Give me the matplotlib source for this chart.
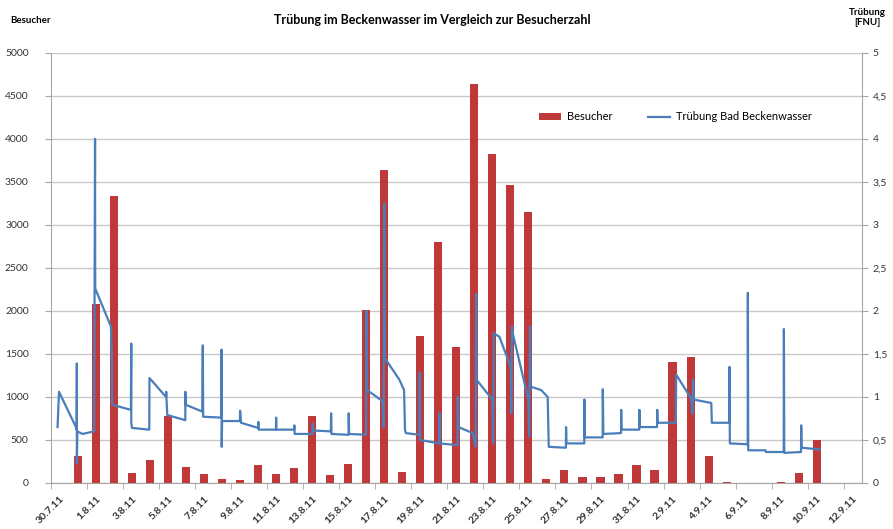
import numpy as np
import matplotlib
matplotlib.use("Agg")
import matplotlib.pyplot as plt
from matplotlib.ticker import FuncFormatter

plt.rcParams['font.family'] = ['Lato', 'DejaVu Sans']

# one slot per day, 30.7.11 .. 12.9.11
tick_labels = ["30.7.11", "1.8.11", "3.8.11", "5.8.11", "7.8.11", "9.8.11", "11.8.11",
               "13.8.11", "15.8.11", "17.8.11", "19.8.11", "21.8.11", "23.8.11", "25.8.11",
               "27.8.11", "29.8.11", "31.8.11", "2.9.11", "4.9.11", "6.9.11", "8.9.11",
               "10.9.11", "12.9.11"]

besucher = [0, 310, 2080, 3340, 120, 265, 780, 180, 105, 45, 40, 210, 105, 175, 780,
            92, 215, 2015, 3640, 122, 1705, 2805, 1578, 4640, 3822, 3468, 3151, 48, 151,
            74, 74, 108, 209, 151, 1408, 1466, 314, 15, 5, 5, 12, 120, 500, 0, 0]

# turbidity readings: time in days since 30.7.11, value in FNU
trub_t = [-0.13, -0.05, 0.89, 0.93, 0.94, 0.94, 0.97, 1.25, 1.90, 1.95, 1.96, 2.83, 2.88, 2.90,
          3.94, 3.96, 3.96, 4.00, 4.96, 4.97, 5.89, 5.90, 5.92, 5.96, 6.96, 6.96, 6.98,
          7.90, 7.93, 7.95, 8.96, 8.97, 8.98, 9.00, 9.99, 10.00, 10.05, 11.00, 11.01, 11.03,
          11.99, 12.00, 12.01, 13.00, 13.01, 13.03, 14.02, 14.03, 14.05, 15.04, 15.05, 15.07,
          16.02, 16.03, 16.05, 16.99, 17.02, 17.05, 17.91, 17.96, 18.00, 18.04, 18.84, 19.10,
          19.15, 19.20, 19.95, 19.97, 19.99, 21.05, 21.06, 21.08, 22.07, 22.08, 22.12, 22.91,
          23.08, 23.10, 23.12, 24.00, 24.04, 24.08, 24.39, 25.02, 25.05, 25.09, 25.13, 26.00,
          26.04, 26.09, 26.12, 26.71, 27.07, 27.13, 28.08, 28.09, 28.11, 29.10, 29.11, 29.13,
          30.12, 30.13, 30.16, 31.14, 31.15, 31.17, 32.15, 32.16, 32.18, 33.14, 33.15, 33.17,
          34.18, 34.20, 35.04, 35.10, 35.14, 35.18, 36.15, 36.18, 37.15, 37.16, 37.18, 38.17,
          38.18, 38.20, 39.16, 39.19, 40.17, 40.18, 40.20, 41.13, 41.14, 41.16, 42.16]
trub_v = [0.65, 1.06, 0.65, 0.62, 1.39, 0.23, 0.60, 0.57, 0.60, 4.00, 2.26, 1.82, 1.50, 0.91,
          0.85, 1.62, 0.70, 0.64, 0.62, 1.22, 1.00, 1.06, 0.95, 0.79, 0.73, 1.06, 0.91,
          0.83, 1.60, 0.77, 0.76, 1.55, 0.42, 0.72, 0.72, 0.84, 0.70, 0.64, 0.71, 0.62,
          0.62, 0.76, 0.62, 0.62, 0.67, 0.57, 0.57, 0.69, 0.61, 0.60, 0.81, 0.57,
          0.56, 0.81, 0.57, 0.56, 2.00, 1.08, 0.95, 0.65, 3.25, 1.45, 1.20, 1.08,
          0.62, 0.58, 0.56, 1.28, 0.50, 0.46, 0.81, 0.46, 0.44, 1.00, 0.65, 0.58,
          0.42, 2.20, 1.20, 0.97, 0.46, 1.74, 1.70, 1.35, 0.81, 1.82, 1.74, 0.97,
          0.54, 1.82, 1.12, 1.08, 1.00, 0.42, 0.41, 0.65, 0.46, 0.46, 0.97, 0.53,
          0.53, 1.09, 0.57, 0.58, 0.85, 0.62, 0.62, 0.85, 0.65, 0.65, 0.85, 0.70,
          0.70, 1.26, 0.98, 0.81, 1.20, 0.97, 0.93, 0.70, 0.70, 1.35, 0.46, 0.45,
          2.21, 0.38, 0.38, 0.36, 0.36, 1.79, 0.35, 0.36, 0.67, 0.41, 0.39]

red = '#C0393A'
blue = '#4A7EBB'
grey = '#A6A6A6'

fig = plt.figure(figsize=(8.93, 5.29), dpi=100)
ax = fig.add_axes([0.057, 0.087, 0.908, 0.813])
days = np.arange(len(besucher))
bars = ax.bar(days, besucher, width=0.45, color=red, zorder=2, label='Besucher')

ax.set_xlim(-0.5, len(besucher) - 0.5)
ax.set_ylim(0, 5000)
ax.set_yticks(np.arange(0, 5001, 500))
ax.yaxis.grid(True, color='#C8C8C8', linewidth=1.0, zorder=0)
ax.set_axisbelow(True)
ax.set_xticks(np.arange(0, len(besucher), 2))
ax.set_xticklabels(tick_labels, rotation=45, ha='right', rotation_mode='anchor',
                   fontsize=7.5, fontweight='bold', color='#333333')
ax.set_xticks(np.arange(-0.5, len(besucher), 2), minor=True)
ax.tick_params(axis='x', which='major', length=0, pad=8)
ax.tick_params(axis='x', which='minor', length=4, color=grey)
ax.tick_params(axis='y', length=4, color=grey, labelsize=7.5, labelcolor='#333333', pad=12)
for s in ['top', 'right']:
    ax.spines[s].set_visible(False)
for s in ['left', 'bottom']:
    ax.spines[s].set_color(grey)

ax2 = ax.twinx()
line, = ax2.plot(trub_t, trub_v, color=blue, linewidth=1.6, zorder=3,
                 label='Trübung Bad Beckenwasser')
ax2.set_ylim(0, 5)
ax2.set_yticks(np.arange(0, 5.01, 0.5))
ax2.yaxis.set_major_formatter(FuncFormatter(lambda v, p: f"{v:g}".replace('.', ',')))
ax2.tick_params(axis='y', length=4, color=grey, labelsize=7.5, labelcolor='#333333', pad=4)
for s in ['top', 'left', 'bottom']:
    ax2.spines[s].set_visible(False)
ax2.spines['right'].set_color(grey)

ax2.legend([bars, line], ['Besucher', 'Trübung Bad Beckenwasser'], ncol=2, frameon=False,
           fontsize=8, loc='center', bbox_to_anchor=(0.77, 0.851),
           handlelength=2.0, handletextpad=0.5, columnspacing=3.2)

fig.text(0.484, 0.962, 'Trübung im Beckenwasser im Vergleich zur Besucherzahl',
         ha='center', va='center', fontsize=9, fontweight='bold')
fig.text(0.011, 0.962, 'Besucher', ha='left', va='center', fontsize=7, fontweight='bold')
fig.text(0.992, 0.985, 'Trübung\n[FNU]', ha='right', va='top', fontsize=7,
         fontweight='bold', multialignment='center')

fig.savefig('out.png', dpi=100)
